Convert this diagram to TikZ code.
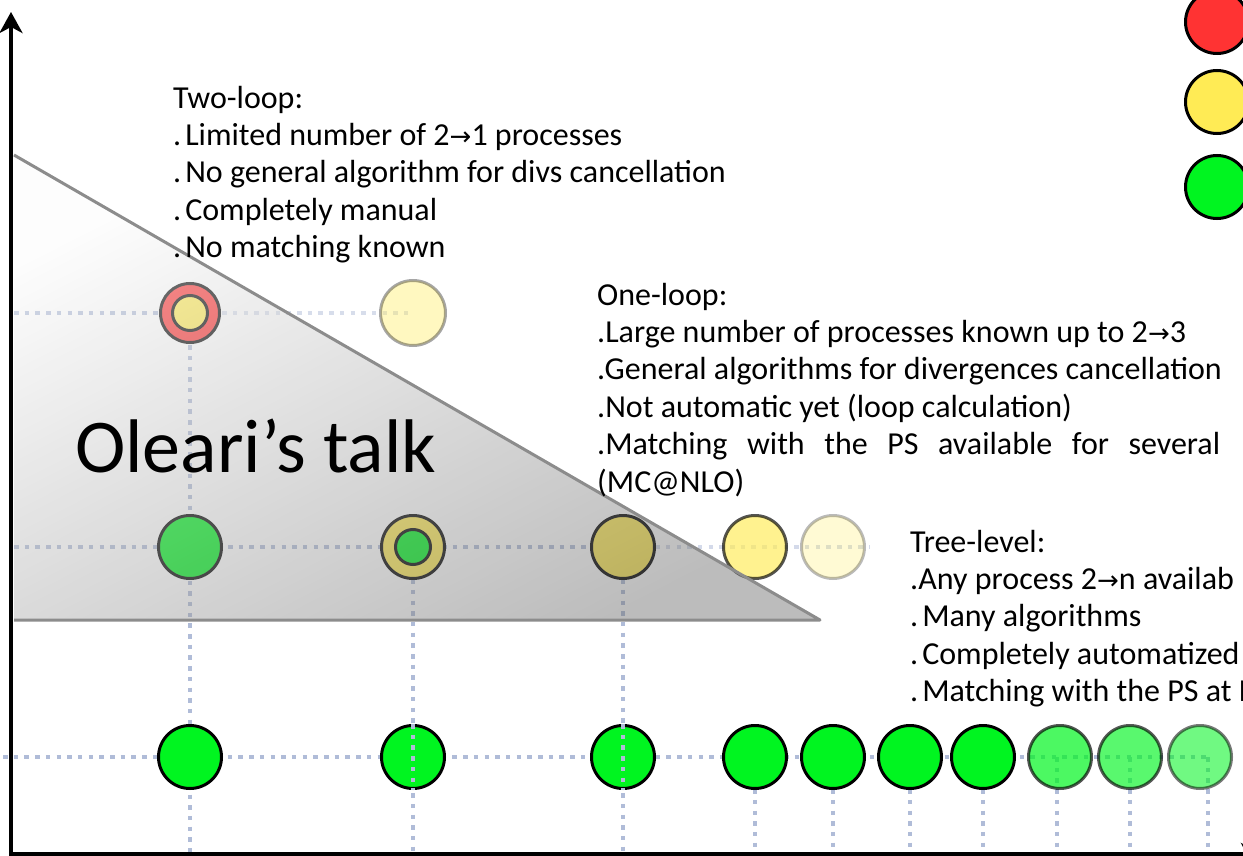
\documentclass[tikz,border=0pt]{standalone}
\usepackage{fontspec}
\setmainfont{Carlito}
\newfontfamily\arrowfont{DejaVu Sans}
\usetikzlibrary{arrows.meta}
\definecolor{cred}{HTML}{FF3333}
\definecolor{cyel}{HTML}{FFEB55}
\definecolor{cgrn}{HTML}{00F520}
\definecolor{gridc}{HTML}{B0BCD8}
\definecolor{triedge}{HTML}{8C8C8C}
\newcommand{\arr}{{\arrowfont\fontsize{26}{26}\selectfont →}}
\newcommand{\bd}{.\kern4pt}
\begin{document}
\begin{tikzpicture}[x=1pt,y=-1pt,
  ball/.style={circle, draw=black, line width=3pt, minimum size=63pt, inner sep=0pt},
  gridline/.style={gridc, line width=4.5pt, dash pattern=on 4.5pt off 6.2pt},
  txt/.style={anchor=base west, font=\fontsize{32}{37.4}\selectfont, align=left, inner sep=0pt},
]
\useasboundingbox (0,0) rectangle (1243,856);
\clip (0,0) rectangle (1243,856);
% coordinates
\coordinate (p2a) at (190,313);
\coordinate (p2b) at (413,313);
\coordinate (p1a) at (190,547);
\coordinate (p1b) at (413,547);
\coordinate (p1c) at (623,547);
\coordinate (p1d) at (755,547);
\coordinate (p1e) at (833,547);
\coordinate (t1) at (190,757);
\coordinate (t2) at (413,757);
\coordinate (t3) at (623,757);
\coordinate (t4) at (755,757);
\coordinate (t5) at (833,757);
\coordinate (t6) at (910,757);
\coordinate (t7) at (983,757);
\coordinate (t8) at (1060,757);
\coordinate (t9) at (1130,757);
\coordinate (t10) at (1200,757);
\coordinate (L2) at (14,313);
\coordinate (R2) at (408,313);
\coordinate (L1) at (14,547);
\coordinate (R1) at (870,547);
\coordinate (L0) at (3,757);
\coordinate (R0) at (1208,757);
\coordinate (C8) at (1057,757);
\coordinate (C9) at (1130,757);
\coordinate (C10) at (1208,757);
\foreach \n/\x in {1/190,2/413,3/623,4/755,5/833,6/910,7/983,8/1057,9/1130,10/1208}
  \coordinate (B\n) at (\x,856);
% grid lines
\draw[gridline] (L2) -- (p2a);
\draw[gridline, draw opacity=0.5] (p2a) -- (R2);
\draw[gridline] (L1) -- (p1c);
\draw[gridline, draw opacity=0.55] (p1c) -- (R1);
\draw[gridline] (L0) -- (R0);
\draw[gridline] (p2a) -- (B1);
\draw[gridline] (p1b) -- (B2);
\draw[gridline] (p1c) -- (B3);
\draw[gridline] (t4) -- (B4);
\draw[gridline] (t5) -- (B5);
\draw[gridline] (t6) -- (B6);
\draw[gridline] (t7) -- (B7);
\draw[gridline] (C8) -- (B8);
\draw[gridline] (C9) -- (B9);
\draw[gridline] (C10) -- (B10);
% two-loop row
\node[ball, minimum size=59pt, fill=cred] (n2a) at (p2a) {};
\node[ball, minimum size=35pt, fill=cyel] (n2ai) at (p2a) {};
\node[ball, minimum size=65pt, fill=cyel, fill opacity=0.37, draw opacity=0.35] (n2b) at (p2b) {};
% one-loop row
\node[ball, fill=cgrn] (n1a) at (p1a) {};
\node[ball, fill=cyel] (n1b) at (p1b) {};
\node[ball, minimum size=35pt, fill=cgrn] (n1bi) at (p1b) {};
\node[ball, fill=cyel] (n1c) at (p1c) {};
\node[ball, fill=cyel, fill opacity=0.66, draw opacity=0.67] (n1d) at (p1d) {};
\node[ball, fill=cyel, fill opacity=0.25, draw opacity=0.27] (n1e) at (p1e) {};
% tree row
\foreach \i in {1,...,7} \node[ball, fill=cgrn] (nt\i) at (t\i) {};
\node[ball, fill=cgrn, fill opacity=0.7, draw opacity=0.67] (nt8) at (t8) {};
\node[ball, fill=cgrn, fill opacity=0.65, draw opacity=0.65] (nt9) at (t9) {};
\node[ball, fill=cgrn, fill opacity=0.56, draw opacity=0.53] (nt10) at (t10) {};
\draw[gridline] (nt2.north) -- (nt2.south);
\draw[gridline] (nt3.north) -- (nt3.south);
% legend
\node[ball, fill=cred] (lr) at (1217,22) {};
\node[ball, fill=cyel] (ly) at (1217,102) {};
\node[ball, fill=cgrn] (lg) at (1217,187) {};
% triangle overlay
\shade[top color=white!98!black, bottom color=black!58, shading angle=27, fill opacity=0.45]
  (14,155) -- (14,620) -- (820,620) -- cycle;
\draw[triedge, line width=3pt, line join=round] (14,155) -- (820,620) -- (14,620);
% texts
\node[anchor=base west, inner sep=0pt, font=\fontsize{76}{76}\selectfont] (ol) at (75,472) {Oleari’s talk};
\node[txt] (two) at (173,257.6) {Two-loop:\\
\bd Limited number of 2\arr1 processes\\
\bd No general algorithm for divs cancellation\\
\bd Completely manual\\
\bd No matching known};
\node[txt] (one) at (597,492) {One-loop:\\
.Large number of processes known up to 2\arr3\\
.General algorithms for divergences cancellation\\
.Not automatic yet (loop calculation)\\
\makebox[623pt][s]{.Matching with the PS available for several}\\
(MC@NLO)};
\node[txt] (tree) at (910,701.6) {Tree-level:\\
.Any process 2\arr n availab\\
\bd Many algorithms\\
\bd Completely automatized\\
\bd Matching with the PS at N};
% axes
\coordinate (Ybot) at (11,860);
\coordinate (Ytop) at (11,12);
\coordinate (Xl) at (9,854.5);
\coordinate (Xr) at (1262,854.5);
\draw[line width=4.5pt, -{Stealth[length=21pt,width=23pt,inset=6pt]}] (Ybot) -- (Ytop);
\draw[line width=4.5pt, -{Stealth[length=21pt,width=23pt,inset=6pt]}] (Xl) -- (Xr);
\end{tikzpicture}
\end{document}
